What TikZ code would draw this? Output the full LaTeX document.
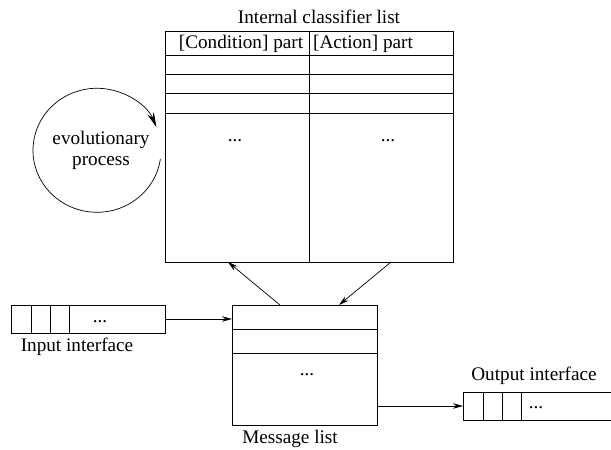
\documentclass[tikz,border=0pt]{standalone}
\usepackage{fontspec}
\setmainfont{Liberation Serif}
\usetikzlibrary{arrows.meta}
\begin{document}
\begin{tikzpicture}[x=1pt,y=-1pt,line width=0.8pt,
  lbl/.style={font=\fontsize{19.2}{21}\selectfont,inner sep=0pt},
  box/.style={draw,inner sep=0pt,anchor=north west},
  conn/.style={-{Stealth[length=10pt,width=5.5pt]},line width=0.7pt}]
\useasboundingbox (0,0) rectangle (611,450);
% classifier list
\node[box,minimum width=288pt,minimum height=231pt] (cls) at (165,31) {};
\draw (309,31) -- (309,262);
\foreach \yy in {55,74,93,113} \draw (165,\yy) -- (453,\yy);
\node[lbl] (title) at (319,17) {Internal classifier list};
\node[lbl] (cond) at (241,44) {[Condition] part};
\node[lbl] (act) at (363,44) {[Action] part};
\node[lbl] (d1) at (235,141) {...};
\node[lbl] (d2) at (388,141) {...};
% evolutionary process
\node[lbl,align=center] (evo) at (101,150) {evolutionary\\process};
\draw[-{Stealth[length=15pt,width=7pt]},line width=0.7pt] (97,150) ++(8:64) arc[start angle=8,end angle=338,x radius=64,y radius=62];
% message list
\node[box,minimum width=145pt,minimum height=120pt] (msg) at (232,305) {};
\draw (232,329) -- (377,329);
\draw (232,353) -- (377,353);
\node[lbl] (d3) at (307,375) {...};
\node[lbl] (msglbl) at (290,439) {Message list};
% input interface
\node[box,minimum width=154pt,minimum height=28pt] (inp) at (11,305) {};
\foreach \xx in {31,50,69} \draw (\xx,305) -- (\xx,333);
\node[lbl] (d4) at (100,322) {...};
\node[lbl] (inlbl) at (77,347) {Input interface};
% output interface
\draw (611,392) -- (463,392) -- (463,420) -- (611,420);
\foreach \xx in {483,502,521} \draw (\xx,392) -- (\xx,420);
\node[lbl] (d5) at (536,408) {...};
\node[lbl] (outlbl) at (534,376) {Output interface};
% connectors
\coordinate (outl) at (463,406);
\coordinate (m1) at (280,305);
\coordinate (c1) at (228,262);
\coordinate (c2) at (391,262);
\coordinate (m2) at (339,305);
\coordinate (inr) at (165,319);
\coordinate (msgl) at (232,319);
\coordinate (msgr) at (377,406);
\draw[conn] (m1) -- (c1);
\draw[conn] (c2) -- (m2);
\draw[conn] (inr) -- (msgl);
\draw[conn] (msgr) -- (outl);
\end{tikzpicture}
\end{document}
